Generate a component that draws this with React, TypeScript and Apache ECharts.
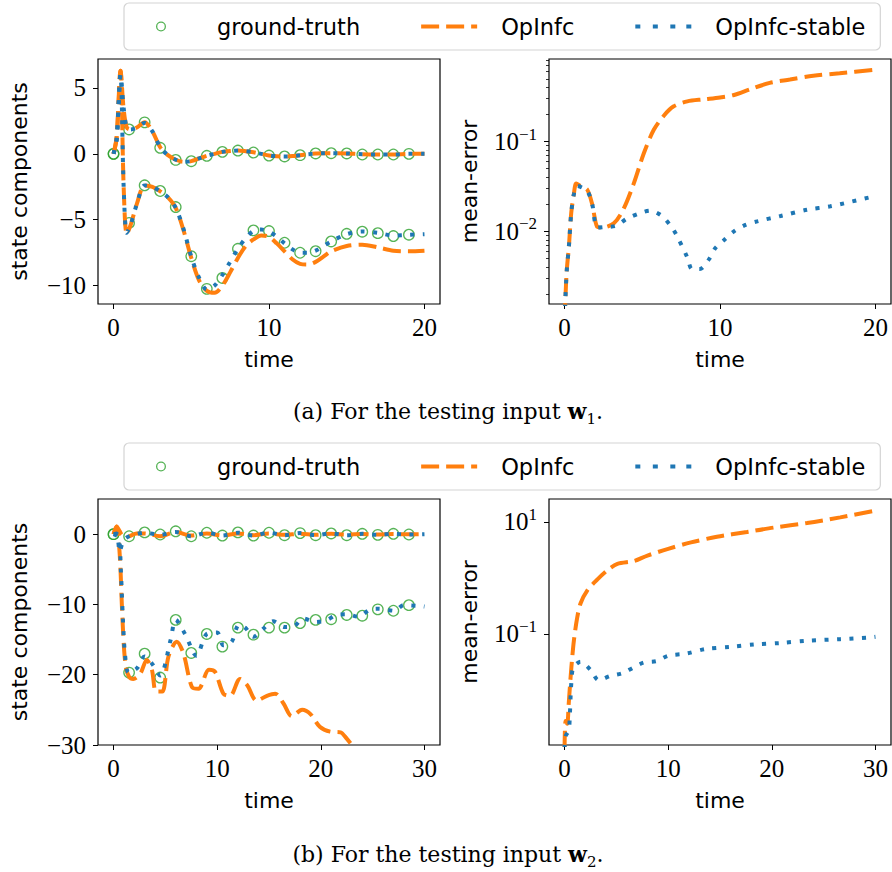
import React, { useEffect, useRef } from 'react';
import * as echarts from 'echarts';

// ---------- Panel (a): testing input w1 ----------
const tA = [0, 0.2, 0.45, 0.65, 0.85, 1.1, 1.5, 2, 2.5, 3, 3.5, 4, 4.5, 5, 5.5, 6, 6.5, 7, 7.5, 8, 8.5, 9, 9.5, 10, 10.5, 11, 11.5, 12, 12.5, 13, 13.5, 14, 15, 16, 17, 18, 19, 20];
const opA1 = [0, 1.2, 6.3, 3.4, 2.0, 1.85, 2.0, 2.4, 1.7, 0.5, -0.1, -0.45, -0.6, -0.55, -0.35, -0.15, 0.0, 0.15, 0.22, 0.25, 0.2, 0.12, 0.0, -0.12, -0.18, -0.2, -0.17, -0.1, -0.03, 0.02, 0.05, 0.05, 0.03, -0.03, -0.05, -0.05, 0.0, 0.0];
const stA1 = [0, 1.1, 6.0, 3.5, 2.0, 1.85, 2.0, 2.35, 1.7, 0.5, -0.1, -0.45, -0.6, -0.55, -0.35, -0.15, 0.0, 0.15, 0.22, 0.25, 0.2, 0.12, 0.0, -0.12, -0.18, -0.2, -0.17, -0.1, -0.03, 0.02, 0.05, 0.05, 0.03, -0.03, -0.05, -0.05, 0.0, 0.0];
const opA2 = [0, 1.3, 6.3, -2.5, -6.1, -5.4, -3.8, -2.4, -2.5, -2.85, -3.3, -4.1, -5.8, -7.9, -9.6, -10.4, -10.55, -10.0, -9.0, -7.9, -7.0, -6.5, -6.2, -6.3, -6.8, -7.4, -8.0, -8.35, -8.4, -8.2, -7.8, -7.4, -7.0, -6.9, -7.1, -7.35, -7.4, -7.35];
const stA2 = [0, 1.1, 6.0, -2.5, -6.0, -5.4, -3.8, -2.4, -2.5, -2.85, -3.3, -4.1, -5.7, -7.8, -9.4, -10.3, -10.0, -9.2, -8.2, -7.2, -6.4, -5.85, -5.75, -5.9, -6.3, -6.8, -7.25, -7.5, -7.5, -7.35, -7.0, -6.65, -6.1, -5.9, -6.0, -6.2, -6.15, -6.1];
const tGtA = [0, 1, 2, 3, 4, 5, 6, 7, 8, 9, 10, 11, 12, 13, 14, 15, 16, 17, 18, 19];
const gtA1 = [0, 1.85, 2.39, 0.46, -0.46, -0.56, -0.15, 0.15, 0.25, 0.1, -0.13, -0.2, -0.1, 0.03, 0.05, 0.03, -0.05, -0.05, -0.05, 0];
const gtA2 = [0, -5.25, -2.39, -2.82, -4.04, -7.77, -10.25, -9.42, -7.21, -5.81, -5.86, -6.75, -7.51, -7.39, -6.65, -6.07, -5.91, -6.02, -6.24, -6.14];
const tErrAop = [0, 0.13, 0.28, 0.43, 0.6, 0.75, 1.03, 1.46, 1.78, 2.1, 2.4, 3.17, 3.8, 4.45, 5.1, 5.74, 6.4, 7.0, 7.9, 8.95, 10, 10.9, 11.9, 13.2, 14.5, 16, 17.7, 20];
const errAop = [0.001, 0.0034, 0.0068, 0.016, 0.026, 0.034, 0.032, 0.029, 0.020, 0.0112, 0.011, 0.0123, 0.0178, 0.034, 0.074, 0.135, 0.195, 0.245, 0.28, 0.295, 0.31, 0.33, 0.38, 0.45, 0.49, 0.54, 0.575, 0.63];
const tErrAst = [0, 0.13, 0.28, 0.43, 0.6, 0.8, 1.46, 1.78, 2.1, 2.6, 3.3, 4.0, 4.8, 5.5, 6.2, 6.8, 7.2, 7.9, 8.2, 8.7, 9.3, 9.7, 10.3, 10.9, 11.6, 12.4, 13.9, 15.6, 17.1, 19.7, 20];
const errAst = [0.001, 0.0034, 0.0068, 0.016, 0.026, 0.032, 0.028, 0.020, 0.011, 0.0112, 0.0115, 0.0138, 0.0158, 0.017, 0.0151, 0.0117, 0.0091, 0.0051, 0.0038, 0.0038, 0.0049, 0.0065, 0.0081, 0.010, 0.0117, 0.0129, 0.0148, 0.0174, 0.019, 0.024, 0.0245];

// ---------- Panel (b): testing input w2 ----------
const tB1 = [0, 0.3, 0.6, 0.8, 1.0, 1.5, 2.2, 3, 4.5, 6, 7.5, 9, 10.5, 12, 13.5, 15, 16.5, 18, 19.5, 21, 22.5, 24, 25.5, 27, 28.5, 30];
const stB1 = [0, 0.1, -2.5, -1.5, -0.8, -0.3, 0, 0.2, -0.1, 0.3, -0.3, 0.2, -0.2, 0.2, -0.2, 0.2, -0.15, 0.15, -0.15, 0.1, -0.15, 0.05, -0.1, 0.05, -0.05, 0];
const opB1 = [0, 1.1, 0.4, -0.1, -0.2, -0.3, 0.1, 0.1, -0.3, 0.3, -0.2, 0.1, -0.2, 0.1, -0.15, 0.1, -0.1, 0.05, -0.1, 0.05, -0.05, 0.02, -0.05, 0.02, -0.02, 0];
const tB2op = [0, 0.3, 0.6, 0.8, 1.0, 1.2, 1.5, 1.9, 2.6, 3.2, 3.7, 4.1, 4.7, 5.3, 6.1, 6.75, 7.55, 8.2, 9.2, 9.8, 10.6, 11.25, 12.2, 12.9, 13.8, 14.8, 15.6, 16.4, 17.2, 18.2, 19.0, 19.9, 20.9, 21.9, 22.5, 23.1, 24, 26, 28, 30];
const opB2 = [0, 1.1, -3, -10, -16, -19, -20.3, -20.6, -19.8, -17.9, -19.3, -22.4, -22.4, -17.4, -15.3, -17.0, -21.7, -22.0, -19.3, -19.6, -22.7, -23.0, -20.6, -21.5, -23.7, -23.0, -22.7, -24.1, -25.9, -25.0, -25.6, -27.4, -28.1, -28.2, -29.1, -30.2, -32, -35, -38, -41];
const tB2st = [0, 0.5, 0.7, 0.9, 1.1, 1.45, 2.25, 3.0, 3.7, 4.5, 5.5, 6.0, 6.9, 8.0, 9.0, 10.0, 10.6, 11.4, 12.1, 12.7, 13.5, 14.5, 15.4, 16.5, 17.4, 18.3, 19.5, 20.6, 21.5, 22.6, 23.6, 24.8, 25.6, 27.1, 28.0, 29.4, 30];
const stB2 = [0, -0.5, -5, -12, -17, -19.7, -19.1, -17.4, -18.4, -20.1, -15.1, -12.2, -14.2, -17.3, -14.2, -14.0, -15.8, -15.3, -12.9, -13.3, -14.6, -13.4, -12.4, -13.2, -13.1, -12.0, -12.5, -12.2, -11.5, -11.4, -11.75, -10.7, -10.6, -10.9, -10.1, -10.2, -10.3];
const tGtB = [0, 1.5, 3, 4.5, 6, 7.5, 9, 10.5, 12, 13.5, 15, 16.5, 18, 19.5, 21, 22.5, 24, 25.5, 27, 28.5];
const gtB1 = [0, -0.3, 0.25, -0.05, 0.4, -0.3, 0.2, -0.2, 0.25, -0.2, 0.2, -0.15, 0.15, -0.15, 0.1, -0.15, 0.05, -0.1, 0.05, -0.05];
const gtB2 = [0, -19.7, -17.0, -20.4, -12.2, -16.9, -14.2, -16.0, -13.3, -14.3, -13.3, -13.3, -12.65, -12.2, -12.1, -11.5, -11.6, -10.7, -10.9, -10.1];
const tErrBop = [0, 0.1, 0.26, 0.4, 0.58, 0.74, 0.9, 1.2, 1.54, 2.2, 3.15, 4.1, 5.1, 6.7, 8, 10, 12.2, 14.7, 17.6, 20.2, 23.4, 26.6, 30];
const errBop = [0.0009, 0.0028, 0.0025, 0.0056, 0.0166, 0.038, 0.076, 0.186, 0.35, 0.6, 0.93, 1.35, 1.78, 2.0, 2.5, 3.3, 4.3, 5.4, 6.6, 7.9, 9.5, 12, 15.8];
const tErrBst = [0, 0.1, 0.4, 0.5, 0.6, 0.67, 0.84, 1.54, 2.5, 3.3, 4.4, 5.6, 6.6, 7.65, 8.9, 10, 11.8, 13.6, 16, 18.3, 20.8, 23.4, 26.6, 29.5, 30];
const errBst = [0.0009, 0.0015, 0.0019, 0.0032, 0.0091, 0.0145, 0.025, 0.032, 0.023, 0.015, 0.0178, 0.02, 0.025, 0.031, 0.033, 0.041, 0.045, 0.054, 0.059, 0.065, 0.069, 0.076, 0.081, 0.087, 0.089];

// ---------- Ticks ----------
const xTicksA = [0, 10, 20];
const xTicksB = [0, 10, 20, 30];
const yTicksA = [-10, -5, 0, 5];
const yTicksB = [-30, -20, -10, 0];
const logTicksA = [0.01, 0.1];
const logMinorA = [0.002, 0.003, 0.004, 0.005, 0.006, 0.007, 0.008, 0.009, 0.02, 0.03, 0.04, 0.05, 0.06, 0.07, 0.08, 0.09, 0.2, 0.3, 0.4, 0.5, 0.6, 0.7, 0.8];
const logTicksB = [0.1, 10];

const seriesNames = ['ground-truth', 'OpInfc', 'OpInfc-stable'];

const SERIF = "'Liberation Serif', 'DejaVu Serif', serif";
const CAPSERIF = "'DejaVu Serif', 'Liberation Serif', serif";
const SANS = "'DejaVu Sans', 'Noto Sans', sans-serif";
const ORANGE = '#ff7f0e';
const BLUE = '#1f77b4';
const GREEN = '#2ca02c';

const zip = (t: number[], v: number[]) => t.map((x, i) => [x, v[i]]);
const fmtLin = (v: number) => (v < 0 ? '\u2212' + Math.abs(v) : String(v));
const fmtLog = (v: number) => {
  const e = Math.round(Math.log10(v));
  return '{b|10}{s|' + (e < 0 ? '\u2212' + Math.abs(e) : String(e)) + '}';
};

const tickLabel = { fontFamily: SERIF, fontSize: 25, color: '#000' };
const logRich = {
  b: { fontFamily: SERIF, fontSize: 25, lineHeight: 32, verticalAlign: 'middle', color: '#000' },
  s: { fontFamily: SERIF, fontSize: 17, lineHeight: 17, verticalAlign: 'top', color: '#000' },
};
const nameStyle = { fontFamily: SANS, fontSize: 22, color: '#000' };
const tickLine = { color: '#000', width: 1 };

function xAxis(gi: number, min: number, max: number, ticks: number[]) {
  return {
    type: 'value', gridIndex: gi, min, max, position: 'bottom',
    name: 'time', nameLocation: 'middle', nameGap: 44, nameTextStyle: nameStyle,
    axisLine: { show: false, onZero: false }, splitLine: { show: false },
    axisTick: { show: true, inside: false, length: 5, lineStyle: tickLine, customValues: ticks },
    axisLabel: { show: true, customValues: ticks, formatter: fmtLin, margin: 11, ...tickLabel },
  };
}
function yLin(gi: number, min: number, max: number, ticks: number[]) {
  return {
    type: 'value', gridIndex: gi, min, max, position: 'left',
    name: 'state components', nameLocation: 'middle', nameRotate: 90, nameGap: 68, nameTextStyle: nameStyle,
    axisLine: { show: false, onZero: false }, splitLine: { show: false },
    axisTick: { show: true, inside: false, length: 5, lineStyle: tickLine, customValues: ticks },
    axisLabel: { show: true, customValues: ticks, formatter: fmtLin, margin: 12, ...tickLabel },
  };
}
function yLog(gi: number, min: number, max: number, ticks: number[]) {
  return {
    type: 'log', logBase: 10, gridIndex: gi, min, max, position: 'left',
    name: 'mean-error', nameLocation: 'middle', nameRotate: 90, nameGap: 69, nameTextStyle: nameStyle,
    axisLine: { show: false, onZero: false }, splitLine: { show: false },
    axisTick: { show: true, inside: false, length: 5, lineStyle: tickLine, customValues: ticks },
    axisLabel: { show: true, customValues: ticks, formatter: fmtLog, margin: 12, rich: logRich },
  };
}

const dashLine = { color: ORANGE, width: 4, type: [18, 7] };
const dotLine = { color: BLUE, width: 4, type: [4, 8.5] };

function lineSeries(name: string, xi: number, yi: number, data: number[][], ls: any, z: number) {
  return {
    type: 'line', name, xAxisIndex: xi, yAxisIndex: yi, data,
    symbol: 'none', showSymbol: false, smooth: 0.3, clip: true, z,
    lineStyle: ls, itemStyle: { color: ls.color },
    emphasis: { disabled: true },
  };
}
function gtSeries(xi: number, yi: number, data: number[][]) {
  return {
    type: 'scatter', name: seriesNames[0], xAxisIndex: xi, yAxisIndex: yi, data,
    symbol: 'circle', symbolSize: 10.5, z: 2,
    itemStyle: { color: 'rgba(0,0,0,0)', borderColor: GREEN, borderWidth: 1.3 },
    emphasis: { disabled: true },
  };
}

// legend handles: 75x10 boxes (corner specks fix the box), drawn part on the left
const BOX = ' M0,0h0.01v0.01h-0.01z M74.99,9.99h0.01v0.01h-0.01z';
const RING_ICON = 'path://M19,5 A5,5 0 1,1 29,5 A5,5 0 1,1 19,5 Z M20.3,5 A3.7,3.7 0 1,0 27.7,5 A3.7,3.7 0 1,0 20.3,5 Z' + BOX;
const DASH_ICON = 'path://M0,3h18v4h-18z M25,3h18v4h-18z M50,3h6v4h-6z' + BOX;
const DOT_ICON = 'path://M0,3h5v4h-5z M17.5,3h5v4h-5z M35,3h5v4h-5z M51,3h5v4h-5z' + BOX;

const legendData = [
  { name: seriesNames[0], icon: RING_ICON, itemStyle: { color: GREEN, borderWidth: 0 } },
  { name: seriesNames[1], icon: DASH_ICON, itemStyle: { color: ORANGE, borderWidth: 0 } },
  { name: seriesNames[2], icon: DOT_ICON, itemStyle: { color: BLUE, borderWidth: 0 } },
];
function legend(top: number) {
  return {
    data: legendData, left: 124, top, orient: 'horizontal',
    itemWidth: 75, itemHeight: 10, itemGap: 61,
    padding: [12, 15, 12, 13], borderColor: '#d4d4d4', borderWidth: 1.2, borderRadius: 5,
    backgroundColor: '#fff', selectedMode: false,
    textStyle: { fontFamily: SANS, fontSize: 22.5, color: '#000' },
  };
}

function caption(letter: string, sub: string, y: number) {
  return {
    type: 'text', x: 448, y,
    style: {
      text: '{n|(' + letter + ') For the testing input }{w|w}{s|' + sub + '}{n|.}',
      align: 'center', verticalAlign: 'middle',
      rich: {
        n: { fontFamily: CAPSERIF, fontSize: 22, lineHeight: 30, verticalAlign: 'middle', fill: '#000' },
        w: { fontFamily: CAPSERIF, fontSize: 22, fontWeight: 'bold', lineHeight: 30, verticalAlign: 'middle', fill: '#000' },
        s: { fontFamily: CAPSERIF, fontSize: 15, lineHeight: 15, verticalAlign: 'bottom', fill: '#000' },
      },
    },
  };
}

export default function App() {
  const ref = useRef<HTMLDivElement>(null);
  useEffect(() => {
    if (!ref.current) return;
    const chart = echarts.init(ref.current, undefined, { renderer: 'svg' });
    const gridBase = { show: true, borderColor: '#000', borderWidth: 1.2, backgroundColor: 'transparent', containLabel: false };
    const option: any = {
      animation: false,
      backgroundColor: '#fff',
      legend: [legend(3), legend(443)],
      grid: [
        { ...gridBase, left: 98, top: 59, width: 342, height: 245 },
        { ...gridBase, left: 549, top: 59, width: 342, height: 245 },
        { ...gridBase, left: 98, top: 499, width: 342, height: 246 },
        { ...gridBase, left: 549, top: 499, width: 342, height: 246 },
      ],
      xAxis: [
        xAxis(0, -1, 21, xTicksA),
        xAxis(1, -1, 21, xTicksA),
        xAxis(2, -1.5, 31.5, xTicksB),
        xAxis(3, -1.5, 31.5, xTicksB),
      ],
      yAxis: [
        yLin(0, -11.4, 7.2, yTicksA),
        yLog(1, 0.00155, 0.83, logTicksA),
        yLin(2, -30, 5, yTicksB),
        yLog(3, 0.00105, 25.5, logTicksB),
        {
          type: 'log', logBase: 10, gridIndex: 1, min: 0.00155, max: 0.83, position: 'left',
          axisLine: { show: false, onZero: false }, splitLine: { show: false }, axisLabel: { show: false },
          axisTick: { show: true, inside: false, length: 3, lineStyle: { color: '#000', width: 0.8 }, customValues: logMinorA },
        },
      ],
      series: [
        gtSeries(0, 0, zip(tGtA, gtA1).concat(zip(tGtA, gtA2))),
        lineSeries(seriesNames[1], 0, 0, zip(tA, opA1), dashLine, 3),
        lineSeries(seriesNames[1], 0, 0, zip(tA, opA2), dashLine, 3),
        lineSeries(seriesNames[2], 0, 0, zip(tA, stA1), dotLine, 4),
        lineSeries(seriesNames[2], 0, 0, zip(tA, stA2), dotLine, 4),
        lineSeries(seriesNames[1], 1, 1, zip(tErrAop, errAop), dashLine, 3),
        lineSeries(seriesNames[2], 1, 1, zip(tErrAst, errAst), dotLine, 4),
        gtSeries(2, 2, zip(tGtB, gtB1).concat(zip(tGtB, gtB2))),
        lineSeries(seriesNames[1], 2, 2, zip(tB1, opB1), dashLine, 3),
        lineSeries(seriesNames[1], 2, 2, zip(tB2op, opB2), dashLine, 3),
        lineSeries(seriesNames[2], 2, 2, zip(tB1, stB1), dotLine, 4),
        lineSeries(seriesNames[2], 2, 2, zip(tB2st, stB2), dotLine, 4),
        lineSeries(seriesNames[1], 3, 3, zip(tErrBop, errBop), dashLine, 3),
        lineSeries(seriesNames[2], 3, 3, zip(tErrBst, errBst), dotLine, 4),
      ],
      graphic: [caption('a', '1', 411), caption('b', '2', 854)],
    };
    chart.setOption(option);
    return () => chart.dispose();
  }, []);
  return <div ref={ref} style={{ position: 'absolute', left: 0, top: 0, width: 892, height: 872 }} />;
}
